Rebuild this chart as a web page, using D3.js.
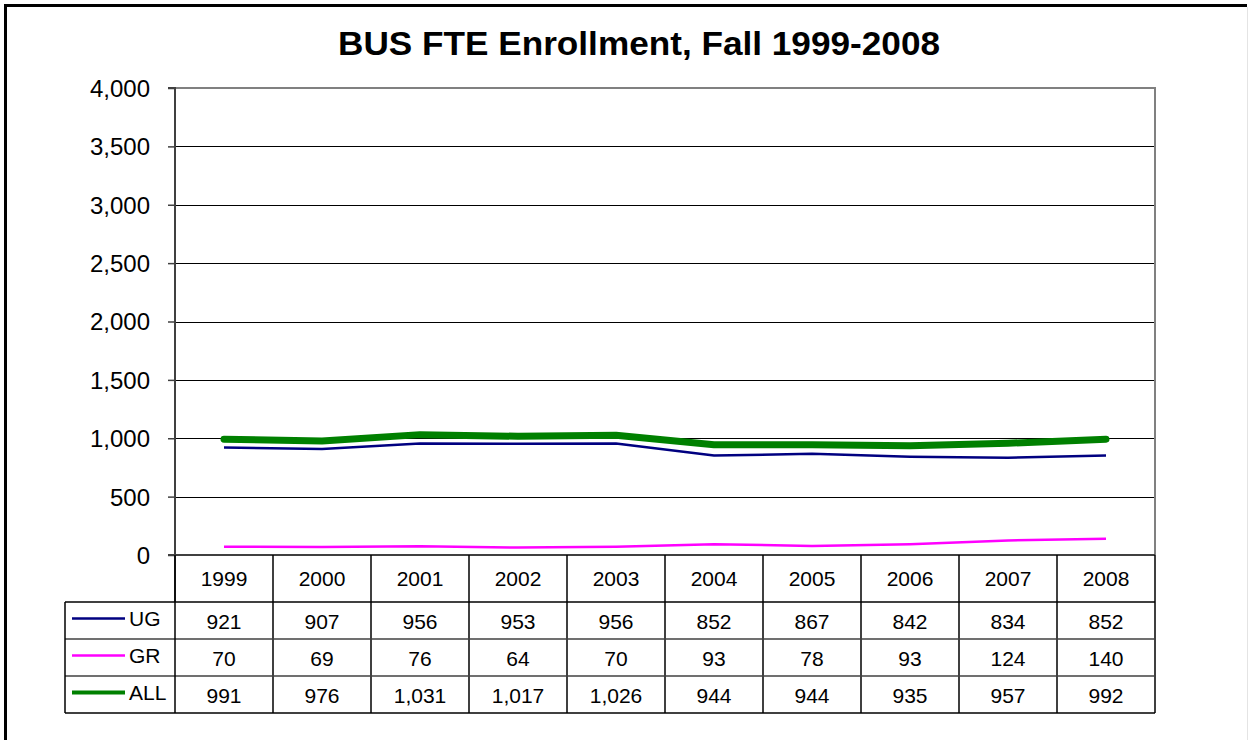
<!DOCTYPE html>
<html><head><meta charset="utf-8">
<script src="https://cdn.jsdelivr.net/npm/d3@7"></script>
<style>body{margin:0;background:#fff}svg{display:block}</style>
</head><body>
<svg id="c" width="1248" height="740"></svg>
<script>
const years = ["1999","2000","2001","2002","2003","2004","2005","2006","2007","2008"];
const ug  = [921,907,956,953,956,852,867,842,834,852];
const gr  = [70,69,76,64,70,93,78,93,124,140];
const all = [991,976,1031,1017,1026,944,944,935,957,992];
const yTicks = [0,500,1000,1500,2000,2500,3000,3500,4000];
const seriesNames = ["UG","GR","ALL"];

const series = [
  {name:"UG", values:ug, color:"#000080", width:2.5},
  {name:"GR", values:gr, color:"#FF00FF", width:2.5},
  {name:"ALL", values:all, color:"#008000", width:7}
];

const svg = d3.select("#c");
const font = "'Liberation Sans', Arial, sans-serif";
const L = 175, R = 1155, T = 88, B = 555;
const rowH = 37, headH = 47, legL = 65;

// outer frame
svg.append("line").attr("x1",5.5).attr("x2",5.5).attr("y1",4).attr("y2",740).attr("stroke","#000").attr("stroke-width",3);
svg.append("line").attr("x1",4).attr("x2",1247).attr("y1",5.5).attr("y2",5.5).attr("stroke","#000").attr("stroke-width",3);
svg.append("line").attr("x1",1247.5).attr("x2",1247.5).attr("y1",7).attr("y2",740).attr("stroke","#e4e4e4").attr("stroke-width",1);

svg.append("text").attr("x",639).attr("y",55).attr("text-anchor","middle")
  .attr("font-family",font).attr("font-weight","bold").attr("font-size",34)
  .attr("textLength",602).attr("lengthAdjust","spacingAndGlyphs")
  .text("BUS FTE Enrollment, Fall 1999-2008");

const x = d3.scaleBand().domain(years).range([L,R]);
const y = d3.scaleLinear().domain([0,4000]).range([B,T]);

// gridlines
svg.append("g").selectAll("line").data(yTicks.filter(d=>d>0 && d<4000)).join("line")
  .attr("x1",L).attr("x2",R).attr("y1",d=>Math.round(y(d))+0.5).attr("y2",d=>Math.round(y(d))+0.5)
  .attr("stroke","#000").attr("stroke-width",1);
// top & right plot border (gray)
svg.append("line").attr("x1",L).attr("x2",R).attr("y1",T).attr("y2",T).attr("stroke","#808080").attr("stroke-width",2);
svg.append("line").attr("x1",R).attr("x2",R).attr("y1",T-1).attr("y2",B).attr("stroke","#808080").attr("stroke-width",2);

// y axis
const yAxis = d3.axisLeft(y).tickValues(yTicks).tickSize(7).tickPadding(18).tickFormat(d3.format(","));
const ga = svg.append("g").attr("transform",`translate(${L},0)`).call(yAxis);
ga.select(".domain").attr("stroke","#404040").attr("stroke-width",2).attr("d",`M-7,${T}H0V${B+headH}`);
ga.selectAll(".tick line").attr("stroke","#404040").attr("stroke-width",1.5);
ga.selectAll("text").attr("font-family",font).attr("font-size",24).attr("fill","#000").attr("dy","0.35em");

// lines
const line = d3.line().x((d,i)=>x(years[i])+x.bandwidth()/2).y(d=>y(d));
series.forEach(s=>{
  svg.append("path").datum(s.values).attr("d",line).attr("fill","none")
    .attr("stroke",s.color).attr("stroke-width",s.width)
    .attr("stroke-linecap", s.name==="ALL"?"round":"butt").attr("stroke-linejoin","round");
});

// x axis line (bottom)
svg.append("line").attr("x1",L-7).attr("x2",R).attr("y1",B).attr("y2",B).attr("stroke","#404040").attr("stroke-width",2);

// data table
const tg = svg.append("g");
const tableBottom = B + headH + 3*rowH;
years.forEach((yr,i)=>{
  const xx = x(yr);
  tg.append("line").attr("x1",xx+x.bandwidth()).attr("x2",xx+x.bandwidth()).attr("y1",B).attr("y2",tableBottom)
    .attr("stroke", "#000").attr("stroke-width",1.5);
  tg.append("text").attr("x",xx+x.bandwidth()/2).attr("y",B+headH/2+7.5).attr("text-anchor","middle")
    .attr("font-family",font).attr("font-size",21).text(yr);
});
for(let r=0;r<=3;r++){
  const yy = B+headH+r*rowH;
  tg.append("line").attr("x1",legL).attr("x2",R).attr("y1",yy).attr("y2",yy).attr("stroke", r===0||r===3?"#000":"#404040").attr("stroke-width",1.5);
}
tg.append("line").attr("x1",legL).attr("x2",legL).attr("y1",B+headH).attr("y2",tableBottom).attr("stroke","#000").attr("stroke-width",1.5);
tg.append("line").attr("x1",L).attr("x2",L).attr("y1",B).attr("y2",tableBottom).attr("stroke","#000").attr("stroke-width",1.5);

series.forEach((s,r)=>{
  const cy = B+headH+r*rowH+rowH/2;
  tg.append("line").attr("x1",72).attr("x2",125).attr("y1",cy-2).attr("y2",cy-2)
    .attr("stroke",s.color).attr("stroke-width", s.name==="ALL"?4:2.5);
  tg.append("text").attr("x",129).attr("y",cy+5).attr("font-family",font).attr("font-size",21).text(seriesNames[r]);
  s.values.forEach((v,i)=>{
    tg.append("text").attr("x",x(years[i])+x.bandwidth()/2).attr("y",cy+8).attr("text-anchor","middle")
      .attr("font-family",font).attr("font-size",21).text(d3.format(",")(v));
  });
});
</script>
</body></html>
